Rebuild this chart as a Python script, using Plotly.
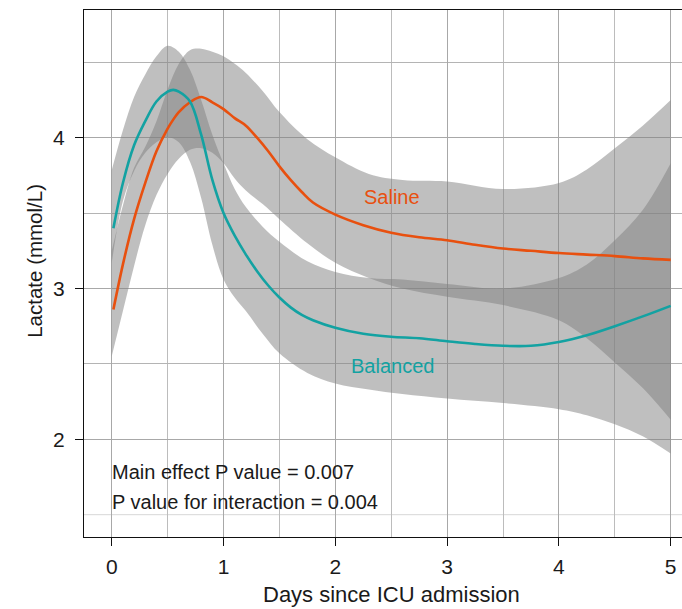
import plotly.graph_objects as go

# Fitted lactate trajectories (mmol/L) by day since ICU admission
days_line = [0.015, 0.1, 0.2, 0.3, 0.4, 0.5, 0.55, 0.6, 0.7, 0.8, 0.9, 1.0, 1.1, 1.2,
             1.3, 1.4, 1.5, 1.6, 1.7, 1.8, 2.0, 2.25, 2.5, 2.75, 3.0, 3.25, 3.5, 3.75,
             4.0, 4.25, 4.5, 4.75, 5.0]
saline = [2.86, 3.16, 3.46, 3.70, 3.91, 4.06, 4.12, 4.17, 4.235, 4.27, 4.235, 4.19, 4.13,
          4.08, 4.00, 3.91, 3.81, 3.72, 3.64, 3.57, 3.49, 3.42, 3.37, 3.34, 3.32, 3.29,
          3.265, 3.25, 3.235, 3.225, 3.215, 3.20, 3.19]
balanced = [3.40, 3.70, 3.95, 4.11, 4.24, 4.305, 4.317, 4.305, 4.24, 4.02, 3.72, 3.50,
            3.35, 3.225, 3.115, 3.02, 2.94, 2.875, 2.825, 2.79, 2.74, 2.70, 2.68, 2.67, 2.65,
            2.632, 2.62, 2.62, 2.645, 2.69, 2.75, 2.815, 2.885]

# Confidence bands
days_band = [0, 0.1, 0.2, 0.3, 0.4, 0.5, 0.6, 0.7, 0.8, 0.9, 1.0, 1.1, 1.2, 1.35, 1.5,
             1.75, 2.0, 2.3, 2.6, 3.0, 3.5, 4.0, 4.25, 4.5, 4.75, 5.0]
saline_lo = [2.55, 2.85, 3.15, 3.42, 3.62, 3.76, 3.86, 3.92, 3.93, 3.90, 3.83, 3.73, 3.65,
             3.56, 3.46, 3.30, 3.17, 3.07, 3.00, 2.945, 2.89, 2.79, 2.67, 2.51, 2.34, 2.13]
saline_hi = [3.25, 3.55, 3.80, 3.94, 4.11, 4.32, 4.49, 4.58, 4.59, 4.57, 4.54, 4.49, 4.43,
             4.31, 4.17, 3.99, 3.87, 3.76, 3.72, 3.71, 3.66, 3.70, 3.79, 3.93, 4.08, 4.25]
balanced_lo = [3.17, 3.58, 3.78, 3.90, 3.97, 4.005, 3.97, 3.84, 3.60, 3.29, 3.06, 2.94, 2.85,
               2.70, 2.57, 2.44, 2.37, 2.33, 2.30, 2.27, 2.24, 2.20, 2.16, 2.10, 2.02, 1.905]
balanced_hi = [3.785, 4.05, 4.27, 4.42, 4.54, 4.61, 4.57, 4.45, 4.25, 4.02, 3.83, 3.66, 3.54,
               3.41, 3.31, 3.18, 3.11, 3.07, 3.06, 3.03, 3.00, 3.07, 3.16, 3.32, 3.52, 3.83]

x_ticks = [0, 1, 2, 3, 4, 5]
y_ticks = [2, 3, 4]
stats_lines = ["Main effect P value = 0.007", "P value for interaction = 0.004"]

ORANGE = "#E8500F"
TEAL = "#13A2A2"
BAND = "rgba(128,128,128,0.5)"
FONT = "Liberation Sans, Arial, Helvetica, sans-serif"
INK = "#1a1a1a"

fig = go.Figure()

for lo, hi in [(saline_lo, saline_hi), (balanced_lo, balanced_hi)]:
    fig.add_trace(go.Scatter(x=days_band, y=lo, mode="lines", line=dict(width=0, shape="spline"),
                             hoverinfo="skip"))
    fig.add_trace(go.Scatter(x=days_band, y=hi, mode="lines", line=dict(width=0, shape="spline"),
                             fill="tonexty", fillcolor=BAND, hoverinfo="skip"))

fig.add_trace(go.Scatter(x=days_line, y=saline, mode="lines", name="Saline",
                         line=dict(color=ORANGE, width=2.6, shape="spline")))
fig.add_trace(go.Scatter(x=days_line, y=balanced, mode="lines", name="Balanced",
                         line=dict(color=TEAL, width=2.6, shape="spline")))

fig.update_layout(
    width=682, height=609,
    margin=dict(l=84, r=0, t=10, b=72),
    plot_bgcolor="white", paper_bgcolor="white",
    showlegend=False,
    font=dict(family=FONT, color=INK),
)

fig.update_xaxes(
    range=[-0.248, 5.101], tickmode="array", tickvals=x_ticks,
    ticks="outside", ticklen=8, tickwidth=1.2, tickcolor="#111",
    tickfont=dict(size=21, family=FONT, color=INK), ticklabelstandoff=3,
    showline=True, linecolor="#111", linewidth=1.3, mirror=True,
    showgrid=True, gridcolor="#a8a8a8", gridwidth=1.3, zeroline=False,
    minor=dict(dtick=0.5, tick0=0, showgrid=True, gridcolor="#bcbcbc", gridwidth=1, ticks=""),
)
fig.update_yaxes(
    range=[1.352, 4.847], tickmode="array", tickvals=y_ticks,
    ticks="outside", ticklen=8, tickwidth=1.2, tickcolor="#111",
    tickfont=dict(size=21, family=FONT, color=INK), ticklabelstandoff=6,
    showline=True, linecolor="#111", linewidth=1.3, mirror=False,
    showgrid=True, gridcolor="#a8a8a8", gridwidth=1.3, zeroline=False,
    minor=dict(tickmode="array", tickvals=[2.5, 3.5, 4.5], showgrid=True,
               gridcolor="#b4b4b4", gridwidth=1, ticks=""),
)

# faint reference line at 1.5 mmol/L
fig.add_shape(type="line", xref="paper", x0=0, x1=1, yref="y", y0=1.5, y1=1.5,
              line=dict(color="#d8d8d8", width=1), layer="below")

fig.add_annotation(x=2.51, y=3.61, text="Saline", showarrow=False,
                   font=dict(size=20, color=ORANGE, family=FONT))
fig.add_annotation(x=2.515, y=2.485, text="Balanced", showarrow=False,
                   font=dict(size=20, color=TEAL, family=FONT))
for txt, yv in zip(stats_lines, [1.782, 1.582]):
    fig.add_annotation(x=-0.012, y=yv, text=txt, showarrow=False, xanchor="left",
                       yanchor="middle", font=dict(size=20, color=INK, family=FONT))

# axis titles
fig.add_annotation(xref="paper", yref="paper", x=0.5134, y=0.0, yshift=-71,
                   text="Days since ICU admission", borderpad=0,
                   showarrow=False, xanchor="center", yanchor="bottom",
                   font=dict(size=22, color=INK, family=FONT))
fig.add_annotation(xref="paper", yref="paper", x=-0.082, y=0.524, text="Lactate (mmol/L)",
                   showarrow=False, textangle=-90, xanchor="center", yanchor="middle",
                   font=dict(size=20.5, color=INK, family=FONT))

fig.write_html("out.html")
